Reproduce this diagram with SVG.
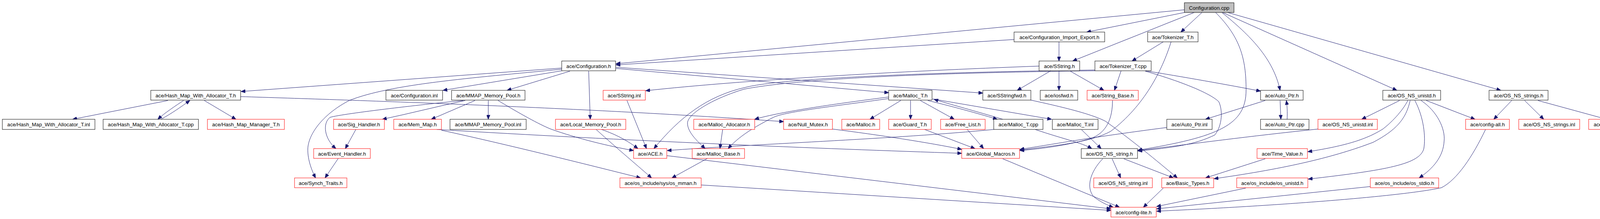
<svg xmlns="http://www.w3.org/2000/svg" width="4259" height="560" viewBox="0 0 4259 560">
<style>
.n rect{fill:#ffffff;stroke:#000000;stroke-width:1}
.r rect{fill:#ffffff;stroke:#ff0000;stroke-width:1}
.g rect{fill:#bfbfbf;stroke:#000000;stroke-width:1}
text{font-family:"Liberation Sans",Arial,Helvetica,sans-serif;font-size:13.2px;fill:#000000;text-anchor:middle}
#edges path{fill:none;stroke:#191970;stroke-width:1;marker-end:url(#a)}
</style>
<defs>
<marker id="a" markerWidth="12" markerHeight="9" refX="11" refY="4.5" orient="auto" markerUnits="userSpaceOnUse"><path d="M0,0 L11,4.5 L0,9 z" fill="#191970" stroke="#191970" stroke-width="1"/></marker>
</defs>
<rect x="0" y="0" width="4259" height="560" fill="#ffffff"/>
<g id="edges">
<path d="M3032,25 L1577,163"/>
<path d="M3032,32 L2782,82"/>
<path d="M3057,32 L2746,156"/>
<path d="M3077,32 L3023,82"/>
<path d="M3112,32 C3175,95 3190,150 3190,230 C3190,320 3120,350 2913,384"/>
<path d="M3128,32 C3200,90 3260,150 3277,231"/>
<path d="M3130,32 L3576,231"/>
<path d="M3143,32 L3842,231"/>
<path d="M2596,101 L1577,166"/>
<path d="M2711,107 L2711,156"/>
<path d="M2978,107 L2898,156"/>
<path d="M2998,107 C2975,180 2930,270 2843,336 C2790,365 2700,372 2611,384"/>
<path d="M1438,174 L617,234"/>
<path d="M1438,177 C1200,200 1000,215 894,257 C830,290 790,340 788,380 C787,410 800,440 808,455"/>
<path d="M1438,181 L1134,231"/>
<path d="M1459,182 L1298,231"/>
<path d="M1507,182 L1511,305"/>
<path d="M1577,175 L2275,237"/>
<path d="M1577,172 L2516,238"/>
<path d="M430,257 L186,305"/>
<path d="M470,257 C450,270 420,290 404,305"/>
<path d="M412,305 C440,290 465,272 486,257"/>
<path d="M523,257 L604,305"/>
<path d="M616,247 C900,256 1500,275 2006,311"/>
<path d="M1191,257 C1120,272 1050,290 979,305"/>
<path d="M1186,257 C1100,265 880,290 845,300 C825,315 830,355 860,380"/>
<path d="M1216,257 L1104,305"/>
<path d="M1250,257 L1250,305"/>
<path d="M1275,257 C1330,290 1380,318 1410,330 C1480,355 1560,374 1622,385"/>
<path d="M911,331 L884,380"/>
<path d="M866,405 L832,455"/>
<path d="M1118,331 C1600,360 2100,380 2462,392"/>
<path d="M1130,333 C1300,370 1500,420 1640,455"/>
<path d="M1540,331 C1580,345 1610,362 1633,380"/>
<path d="M1526,331 C1580,380 1640,430 1668,455"/>
<path d="M1605,257 L1655,380"/>
<path d="M2803,179 C2400,184 2000,200 1910,223 C1810,245 1740,300 1674,380"/>
<path d="M2803,181 C2400,186 2050,200 1905,228 C1830,250 1760,290 1760,315 C1760,340 1790,365 1805,380"/>
<path d="M2870,181 L2853,231"/>
<path d="M2932,181 C3020,195 3150,218 3227,233"/>
<path d="M2932,182 C3030,210 3100,240 3120,260 C3130,280 3130,320 3110,345 C3060,370 3000,378 2913,386"/>
<path d="M2660,169 C2300,182 1900,205 1653,232"/>
<path d="M2690,181 L2604,231"/>
<path d="M2711,181 L2711,231"/>
<path d="M2740,182 L2826,231"/>
<path d="M2275,248 C2150,264 2000,285 1932,305"/>
<path d="M2275,252 C2150,270 2010,285 1980,300 C1930,325 1890,350 1864,380"/>
<path d="M2306,257 L2227,305"/>
<path d="M2331,257 L2331,305"/>
<path d="M2356,257 L2443,305"/>
<path d="M2375,257 C2450,275 2520,295 2553,305"/>
<path d="M2567,305 C2500,285 2430,266 2391,254"/>
<path d="M2387,253 L2692,305"/>
<path d="M1850,331 L1843,380"/>
<path d="M1811,405 L1720,455"/>
<path d="M2131,330 C2250,345 2380,365 2462,382"/>
<path d="M2367,331 L2496,380"/>
<path d="M2476,331 L2518,380"/>
<path d="M2544,331 C2300,355 1900,370 1708,385"/>
<path d="M2650,331 C2720,355 2770,365 2795,380"/>
<path d="M2769,332 L2819,380"/>
<path d="M2639,256 C2750,280 2800,295 2830,310 C2900,360 2960,410 3014,455"/>
<path d="M2848,257 C2848,300 2835,340 2790,355 C2730,372 2670,380 2611,385"/>
<path d="M2987,326 C2800,350 2700,368 2611,382"/>
<path d="M3277,257 L3279,305"/>
<path d="M3295,305 C3296,285 3295,270 3293,257"/>
<path d="M3239,257 L3086,305"/>
<path d="M3374,330 C3200,348 3050,368 2913,385"/>
<path d="M2847,406 L2869,455"/>
<path d="M2877,406 L3004,455"/>
<path d="M2823,406 C2790,440 2780,480 2800,503 C2815,515 2835,525 2850,530"/>
<path d="M2567,406 L2866,530"/>
<path d="M2978,481 L2927,530"/>
<path d="M3239,406 L3086,455"/>
<path d="M3583,257 L3486,305"/>
<path d="M3604,257 C3590,285 3560,315 3540,330 C3500,355 3450,372 3348,388"/>
<path d="M3610,257 C3600,300 3580,330 3515,364 C3420,400 3300,430 3108,457"/>
<path d="M3622,257 C3645,300 3650,350 3645,380 C3635,420 3550,435 3349,458"/>
<path d="M3638,257 C3680,285 3700,330 3697,360 C3695,400 3670,430 3633,455"/>
<path d="M3651,257 L3776,305"/>
<path d="M3870,257 L3824,305"/>
<path d="M3903,257 L3952,305"/>
<path d="M3937,257 L4113,305"/>
<path d="M3189,481 L2961,528"/>
<path d="M3508,477 L2961,534"/>
<path d="M3803,331 C3770,400 3730,460 3690,480 C3600,500 3300,525 2961,540"/>
<path d="M1707,398 L2844,534"/>
<path d="M1795,473 L2844,538"/>
</g>
<g id="n_configuration_cpp" class="g"><rect x="3032" y="7" width="127" height="25"/><text x="3095.5" y="24.5">Configuration.cpp</text></g>
<g id="n_import_export" class="n"><rect x="2596" y="82" width="232" height="25"/><text x="2712" y="99.5">ace/Configuration_Import_Export.h</text></g>
<g id="n_tokenizer_h" class="n"><rect x="2938" y="82" width="129" height="25"/><text x="3002.5" y="99.5">ace/Tokenizer_T.h</text></g>
<g id="n_configuration_h" class="n"><rect x="1438" y="156" width="138" height="25"/><text x="1507" y="173.5">ace/Configuration.h</text></g>
<g id="n_sstring_h" class="n"><rect x="2660" y="156" width="104" height="25"/><text x="2712" y="173.5">ace/SString.h</text></g>
<g id="n_tokenizer_cpp" class="n"><rect x="2803" y="156" width="144" height="25"/><text x="2875" y="173.5">ace/Tokenizer_T.cpp</text></g>
<g id="n_hmwa_h" class="n"><rect x="386" y="231" width="230" height="25"/><text x="501" y="248.5">ace/Hash_Map_With_Allocator_T.h</text></g>
<g id="n_configuration_inl" class="n"><rect x="988" y="231" width="145" height="25"/><text x="1060.5" y="248.5">ace/Configuration.inl</text></g>
<g id="n_mmap_h" class="n"><rect x="1156" y="231" width="188" height="25"/><text x="1250" y="248.5">ace/MMAP_Memory_Pool.h</text></g>
<g id="n_sstring_inl" class="r"><rect x="1544" y="231" width="108" height="25"/><text x="1598" y="248.5">ace/SString.inl</text></g>
<g id="n_malloc_t_h" class="n"><rect x="2275" y="231" width="111" height="25"/><text x="2330.5" y="248.5">ace/Malloc_T.h</text></g>
<g id="n_sstringfwd" class="n"><rect x="2516" y="231" width="123" height="25"/><text x="2577.5" y="248.5">ace/SStringfwd.h</text></g>
<g id="n_iosfwd" class="n"><rect x="2663" y="231" width="96" height="25"/><text x="2711" y="248.5">ace/iosfwd.h</text></g>
<g id="n_string_base" class="r"><rect x="2783" y="231" width="131" height="25"/><text x="2848.5" y="248.5">ace/String_Base.h</text></g>
<g id="n_auto_ptr_h" class="n"><rect x="3227" y="231" width="109" height="25"/><text x="3281.5" y="248.5">ace/Auto_Ptr.h</text></g>
<g id="n_os_ns_unistd_h" class="n"><rect x="3540" y="231" width="148" height="25"/><text x="3614" y="248.5">ace/OS_NS_unistd.h</text></g>
<g id="n_os_ns_strings_h" class="n"><rect x="3812" y="231" width="151" height="25"/><text x="3887.5" y="248.5">ace/OS_NS_strings.h</text></g>
<g id="n_hmwa_inl" class="n"><rect x="6" y="305" width="237" height="26"/><text x="124.5" y="323">ace/Hash_Map_With_Allocator_T.inl</text></g>
<g id="n_hmwa_cpp" class="n"><rect x="264" y="305" width="244" height="26"/><text x="386" y="323">ace/Hash_Map_With_Allocator_T.cpp</text></g>
<g id="n_hash_map_manager" class="r"><rect x="531" y="305" width="197" height="26"/><text x="629.5" y="323">ace/Hash_Map_Manager_T.h</text></g>
<g id="n_sig_handler" class="r"><rect x="854" y="305" width="130" height="26"/><text x="919" y="323">ace/Sig_Handler.h</text></g>
<g id="n_mem_map" class="r"><rect x="1008" y="305" width="122" height="26"/><text x="1069" y="323">ace/Mem_Map.h</text></g>
<g id="n_mmap_inl" class="n"><rect x="1152" y="305" width="195" height="26"/><text x="1249.5" y="323">ace/MMAP_Memory_Pool.inl</text></g>
<g id="n_local_memory_pool" class="r"><rect x="1422" y="305" width="180" height="26"/><text x="1512" y="323">ace/Local_Memory_Pool.h</text></g>
<g id="n_malloc_allocator" class="r"><rect x="1776" y="305" width="156" height="26"/><text x="1854" y="323">ace/Malloc_Allocator.h</text></g>
<g id="n_null_mutex" class="r"><rect x="2006" y="305" width="125" height="26"/><text x="2068.5" y="323">ace/Null_Mutex.h</text></g>
<g id="n_malloc_h" class="r"><rect x="2155" y="305" width="97" height="26"/><text x="2203.5" y="323">ace/Malloc.h</text></g>
<g id="n_guard_t" class="r"><rect x="2275" y="305" width="109" height="26"/><text x="2329.5" y="323">ace/Guard_T.h</text></g>
<g id="n_free_list" class="r"><rect x="2408" y="305" width="114" height="26"/><text x="2465" y="323">ace/Free_List.h</text></g>
<g id="n_malloc_t_cpp" class="n"><rect x="2544" y="305" width="126" height="26"/><text x="2607" y="323">ace/Malloc_T.cpp</text></g>
<g id="n_malloc_t_inl" class="n"><rect x="2694" y="305" width="117" height="26"/><text x="2752.5" y="323">ace/Malloc_T.inl</text></g>
<g id="n_auto_ptr_inl" class="n"><rect x="2987" y="305" width="116" height="26"/><text x="3045" y="323">ace/Auto_Ptr.inl</text></g>
<g id="n_auto_ptr_cpp" class="n"><rect x="3227" y="305" width="124" height="26"/><text x="3289" y="323">ace/Auto_Ptr.cpp</text></g>
<g id="n_os_ns_unistd_inl" class="r"><rect x="3374" y="305" width="152" height="26"/><text x="3450" y="323">ace/OS_NS_unistd.inl</text></g>
<g id="n_config_all" class="r"><rect x="3752" y="305" width="112" height="26"/><text x="3808" y="323">ace/config-all.h</text></g>
<g id="n_os_ns_strings_inl" class="r"><rect x="3888" y="305" width="156" height="26"/><text x="3966" y="323">ace/OS_NS_strings.inl</text></g>
<g id="n_os_strings" class="r"><rect x="4067" y="305" width="188" height="26"/><text x="4161" y="323">ace/os_include/os_strings.h</text></g>
<g id="n_event_handler" class="r"><rect x="803" y="380" width="145" height="25"/><text x="875.5" y="397.5">ace/Event_Handler.h</text></g>
<g id="n_ace_h" class="r"><rect x="1622" y="380" width="85" height="25"/><text x="1664.5" y="397.5">ace/ACE.h</text></g>
<g id="n_malloc_base" class="r"><rect x="1772" y="380" width="134" height="25"/><text x="1839" y="397.5">ace/Malloc_Base.h</text></g>
<g id="n_global_macros" class="r"><rect x="2462" y="380" width="148" height="25"/><text x="2536" y="397.5">ace/Global_Macros.h</text></g>
<g id="n_os_ns_string_h" class="n"><rect x="2768" y="380" width="144" height="25"/><text x="2840" y="397.5">ace/OS_NS_string.h</text></g>
<g id="n_time_value" class="r"><rect x="3218" y="380" width="129" height="25"/><text x="3282.5" y="397.5">ace/Time_Value.h</text></g>
<g id="n_synch_traits" class="r"><rect x="754" y="455" width="134" height="25"/><text x="821" y="472.5">ace/Synch_Traits.h</text></g>
<g id="n_os_mman" class="r"><rect x="1587" y="455" width="208" height="25"/><text x="1691" y="472.5">ace/os_include/sys/os_mman.h</text></g>
<g id="n_os_ns_string_inl" class="r"><rect x="2800" y="455" width="150" height="25"/><text x="2875" y="472.5">ace/OS_NS_string.inl</text></g>
<g id="n_basic_types" class="r"><rect x="2974" y="455" width="133" height="25"/><text x="3040.5" y="472.5">ace/Basic_Types.h</text></g>
<g id="n_os_unistd" class="r"><rect x="3166" y="455" width="182" height="25"/><text x="3257" y="472.5">ace/os_include/os_unistd.h</text></g>
<g id="n_os_stdio" class="r"><rect x="3508" y="455" width="175" height="25"/><text x="3595.5" y="472.5">ace/os_include/os_stdio.h</text></g>
<g id="n_config_lite" class="r"><rect x="2844" y="530" width="116" height="25"/><text x="2902" y="547.5">ace/config-lite.h</text></g>
</svg>
